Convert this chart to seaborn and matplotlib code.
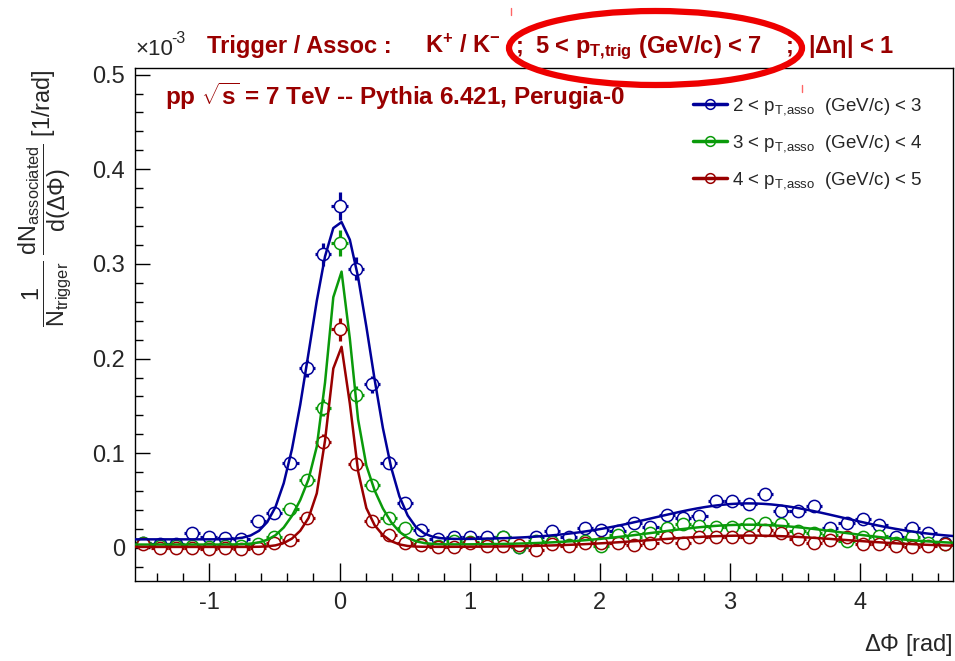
import numpy as np
import pandas as pd
import matplotlib
matplotlib.use("Agg")
import matplotlib.pyplot as plt
from matplotlib.lines import Line2D
from matplotlib.patches import Ellipse
from matplotlib.ticker import MultipleLocator, FixedLocator, FuncFormatter
import seaborn as sns

# ---------------------------------------------------------------------------
# Delta-phi binning: 50 bins over [-pi/2, 3pi/2]
# ---------------------------------------------------------------------------
PHI_MIN, PHI_MAX, N_BINS = -np.pi / 2, 3 * np.pi / 2, 50
bin_edges = np.linspace(PHI_MIN, PHI_MAX, N_BINS + 1)
bin_centers = 0.5 * (bin_edges[:-1] + bin_edges[1:])
bin_half = 0.5 * (bin_edges[1] - bin_edges[0])

series_labels = [
    r"2 < p$_{T{,}asso}$  (GeV/c) < 3",
    r"3 < p$_{T{,}asso}$  (GeV/c) < 4",
    r"4 < p$_{T{,}asso}$  (GeV/c) < 5",
]
series_colors = ["#000099", "#0a9a0a", "#990000"]

# per-trigger associated yields, in units of 10^-3 [1/rad]
yield_2_3 = [0.005, 0.004, 0.004, 0.016, 0.012, 0.010, 0.009, 0.028, 0.037, 0.090,
             0.190, 0.310, 0.361, 0.295, 0.173, 0.090, 0.047, 0.019, 0.009, 0.011,
             0.012, 0.011, 0.011, 0.001, 0.011, 0.018, 0.012, 0.021, 0.019, 0.018,
             0.026, 0.022, 0.035, 0.032, 0.034, 0.050, 0.050, 0.046, 0.057, 0.039,
             0.039, 0.044, 0.021, 0.026, 0.030, 0.024, 0.011, 0.021, 0.016, 0.005]
yield_3_4 = [0.005, 0.002, 0.002, 0.002, 0.001, 0.002, 0.002, 0.004, 0.012, 0.041,
             0.072, 0.148, 0.322, 0.162, 0.066, 0.032, 0.021, 0.004, 0.002, 0.007,
             0.006, 0.004, 0.011, 0.001, 0.007, 0.006, 0.003, 0.007, 0.002, 0.014,
             0.012, 0.016, 0.021, 0.025, 0.023, 0.022, 0.022, 0.025, 0.026, 0.025,
             0.018, 0.016, 0.014, 0.007, 0.012, 0.013, 0.005, 0.011, 0.005, 0.004]
yield_4_5 = [0.004, 0.000, 0.000, 0.000, -0.001, 0.000, -0.001, 0.000, 0.005, 0.008,
             0.032, 0.112, 0.231, 0.089, 0.028, 0.014, 0.005, 0.003, 0.001, 0.001,
             0.005, 0.002, 0.002, 0.003, -0.002, 0.004, 0.002, 0.005, 0.005, 0.005,
             0.003, 0.005, 0.011, 0.005, 0.012, 0.012, 0.011, 0.011, 0.019, 0.016,
             0.009, 0.005, 0.008, 0.011, 0.004, 0.004, 0.002, 0.001, 0.002, 0.004]

# statistical errors on the yields
err_2_3 = [0.003, 0.003, 0.003, 0.003, 0.003, 0.003, 0.003, 0.004, 0.005, 0.007,
           0.009, 0.012, 0.015, 0.012, 0.009, 0.007, 0.005, 0.004, 0.003, 0.003,
           0.003, 0.003, 0.003, 0.003, 0.003, 0.004, 0.003, 0.004, 0.004, 0.004,
           0.004, 0.004, 0.004, 0.004, 0.004, 0.005, 0.005, 0.005, 0.005, 0.004,
           0.004, 0.004, 0.004, 0.004, 0.004, 0.004, 0.003, 0.004, 0.003, 0.003]
err_3_4 = [0.003, 0.002, 0.002, 0.002, 0.002, 0.002, 0.002, 0.002, 0.003, 0.005,
           0.006, 0.009, 0.014, 0.009, 0.006, 0.004, 0.003, 0.002, 0.002, 0.003,
           0.003, 0.002, 0.003, 0.002, 0.003, 0.003, 0.002, 0.003, 0.002, 0.003,
           0.003, 0.003, 0.003, 0.003, 0.003, 0.003, 0.003, 0.003, 0.003, 0.003,
           0.003, 0.003, 0.003, 0.003, 0.003, 0.003, 0.002, 0.003, 0.002, 0.002]
err_4_5 = [0.002, 0.002, 0.002, 0.002, 0.002, 0.002, 0.002, 0.002, 0.002, 0.003,
           0.004, 0.008, 0.012, 0.007, 0.004, 0.003, 0.002, 0.002, 0.002, 0.002,
           0.002, 0.002, 0.002, 0.002, 0.002, 0.002, 0.002, 0.002, 0.002, 0.002,
           0.002, 0.002, 0.003, 0.002, 0.003, 0.003, 0.003, 0.003, 0.003, 0.003,
           0.002, 0.002, 0.002, 0.003, 0.002, 0.002, 0.002, 0.002, 0.002, 0.002]

# fit parameters: constant + near-side (two gaussians at 0) + away-side gaussian at pi
fit_const = [0.009, 0.0035, 0.001]
fit_near_amp1 = [0.336, 0.172, 0.1455]
fit_near_sig1 = [0.23, 0.08, 0.08]
fit_near_amp2 = [0.0, 0.12, 0.069]
fit_near_sig2 = [0.23, 0.22, 0.18]
fit_away_amp = [0.038, 0.021, 0.012]
fit_away_sig = [0.72, 0.72, 0.75]

yields = [yield_2_3, yield_3_4, yield_4_5]
errors = [err_2_3, err_3_4, err_4_5]


def fit_function(phi, i):
    return (fit_const[i]
            + fit_near_amp1[i] * np.exp(-0.5 * (phi / fit_near_sig1[i]) ** 2)
            + fit_near_amp2[i] * np.exp(-0.5 * (phi / fit_near_sig2[i]) ** 2)
            + fit_away_amp[i] * np.exp(-0.5 * ((phi - np.pi) / fit_away_sig[i]) ** 2))


phi_fine = np.linspace(PHI_MIN, PHI_MAX, 100)
fit_df = pd.concat([
    pd.DataFrame({"phi": phi_fine, "value": fit_function(phi_fine, i), "series": lab})
    for i, lab in enumerate(series_labels)
], ignore_index=True)

# ---------------------------------------------------------------------------
# Style
# ---------------------------------------------------------------------------
sns.set_style("ticks")
plt.rcParams["font.family"] = ["Liberation Sans", "DejaVu Sans"]
plt.rcParams["mathtext.fontset"] = "custom"
plt.rcParams["mathtext.rm"] = "Liberation Sans"
plt.rcParams["mathtext.it"] = "Liberation Sans:italic"
plt.rcParams["mathtext.bf"] = "Liberation Sans:bold"
plt.rcParams["mathtext.default"] = "regular"
plt.rcParams["axes.unicode_minus"] = False

W, H = 955, 661
fig = plt.figure(figsize=(W / 100, H / 100), dpi=100)


def fx(x):
    return x / W


def fy(y):
    return 1 - y / H


ax = fig.add_axes([fx(135), fy(581), fx(953) - fx(135), fy(68) - fy(581)])

# data points with error bars (bin width as x error)
for i, lab in enumerate(series_labels):
    ax.errorbar(bin_centers, yields[i], yerr=errors[i], xerr=bin_half,
                fmt="o", color=series_colors[i], ms=8.8, mfc="white",
                mec=series_colors[i], mew=1.1, elinewidth=2.3, capsize=0,
                zorder=2)

# fit curves
sns.lineplot(data=fit_df, x="phi", y="value", hue="series",
             palette=dict(zip(series_labels, series_colors)),
             linewidth=1.8, legend=False, ax=ax, zorder=3, sort=False,
             estimator=None)

ax.set_xlim(PHI_MIN, PHI_MAX)
ax.set_ylim(-0.035, 0.507)
ax.set_xlabel("")
ax.set_ylabel("")

ax.xaxis.set_major_locator(MultipleLocator(1))
ax.xaxis.set_minor_locator(MultipleLocator(0.2))
ax.yaxis.set_major_locator(FixedLocator([0, 0.1, 0.2, 0.3, 0.4, 0.5]))
ax.yaxis.set_minor_locator(MultipleLocator(0.02))
ax.xaxis.set_major_formatter(FuncFormatter(lambda v, p: f"{v:.0f}"))
ax.yaxis.set_major_formatter(FuncFormatter(lambda v, p: "0" if abs(v) < 1e-9 else f"{v:.1f}"))

ax.tick_params(which="both", direction="in", top=False, right=False,
               width=1, color="black", labelsize=17)
ax.tick_params(axis="x", which="major", length=13, pad=8)
ax.tick_params(axis="x", which="minor", length=6)
ax.tick_params(axis="y", which="major", length=11, pad=7)
ax.tick_params(axis="y", which="minor", length=6)
for s in ax.spines.values():
    s.set_linewidth(1)
    s.set_color("black")

# axis titles
fig.text(fx(953), fy(651), r"$\Delta\Phi$ [rad]", ha="right", va="baseline", fontsize=17)
fig.text(fx(45), fy(69),
         r"$\dfrac{1}{N_{trigger}}\;\dfrac{dN_{associated}}{d(\Delta\Phi)}$ [1/rad]",
         rotation=90, ha="center", va="top", fontsize=16.8)

# axis multiplier
fig.text(fx(135), fy(55), "\u00d710", ha="left", va="baseline", fontsize=16)
fig.text(fx(171), fy(43), "-3", ha="left", va="baseline", fontsize=11.5)

# titles
dark_red = "#990000"
title_parts = [
    (207, "Trigger / Assoc :"),
    (425, r"K$^{+}$ / K$^{-}$"),
    (516, ";"),
    (535, r"5 < p$_{T{,}trig}$ (GeV/c) < 7"),
    (786, ";"),
    (808, r"|$\Delta\eta$| < 1"),
]
for x0, txt in title_parts:
    fig.text(fx(x0), fy(53), txt, ha="left", va="baseline", fontsize=17,
             fontweight="bold", color=dark_red)
fig.text(fx(165), fy(105), r"pp $\sqrt{s}$ = 7 TeV -- Pythia 6.421, Perugia-0",
         ha="left", va="baseline", fontsize=17.5, fontweight="bold", color=dark_red)

# legend
handles = [Line2D([0], [0], color=c, lw=2.5, marker="o", ms=7, mfc="none", mec=c, mew=1.1)
           for c in series_colors]
ax.legend(handles, series_labels, loc="upper left",
          bbox_to_anchor=(fx(693), fy(96)), bbox_transform=fig.transFigure,
          fontsize=13.5, frameon=False, handlelength=1.8, handletextpad=0.3,
          labelspacing=0.85, borderpad=0, borderaxespad=0)

# highlight ring around the trigger-pT selection
fig.add_artist(Ellipse((fx(655.5), fy(48)), fx(293), 74 / H, transform=fig.transFigure,
                       fill=False, edgecolor="#ee0000", lw=4.5, zorder=10))
fig.add_artist(Line2D([fx(511), fx(511)], [fy(8), fy(15)], transform=fig.transFigure,
                      color="#ff6666", lw=1))
fig.add_artist(Line2D([fx(802), fx(802)], [fy(85), fy(92)], transform=fig.transFigure,
                      color="#ff6666", lw=1))

fig.savefig("out.png", dpi=100)
